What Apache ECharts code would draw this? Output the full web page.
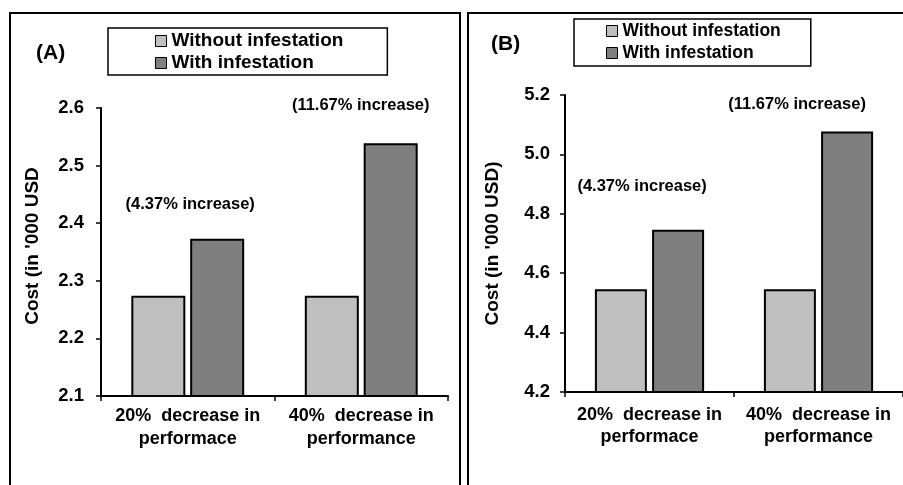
<!DOCTYPE html>
<html><head><meta charset="utf-8">
<script src="https://cdn.jsdelivr.net/npm/echarts@6/dist/echarts.min.js"></script>
<style>html,body{margin:0;padding:0;background:#fff}#c{width:903px;height:485px}</style>
</head><body><div id="c"></div>
<script>
// ---- data ----
const categories = ['20%  decrease in\nperformace', '40%  decrease in\nperformance'];
const seriesNames = ['Without infestation', 'With infestation'];
const withoutA = [2.274, 2.274];
const withA = [2.373, 2.539];
const withoutB = [4.546, 4.546];
const withB = [4.746, 5.077];
const increaseLabels = ['(4.37% increase)', '(11.67% increase)'];
const yTicksA = [2.1, 2.2, 2.3, 2.4, 2.5, 2.6];
const yTicksB = [4.2, 4.4, 4.6, 4.8, 5.0, 5.2];
const yNameA = "Cost (in '000 USD";
const yNameB = "Cost (in '000 USD)";

// ---- styles ----
const FONT = '"Liberation Sans", Arial, Helvetica, sans-serif';
const LIGHT = '#bfbfbf', DARK = '#7f7f7f';
const labelOffsetsA = [[-27, -26], [-30, -29]];
const labelOffsetsB = [[-36, -35], [-50, -19]];

const chart = echarts.init(document.getElementById('c'), null, {renderer: 'canvas'});

function xAxis(gi, margin, lh) {
  return {
    type: 'category', gridIndex: gi, data: categories,
    axisLine: {show: true, lineStyle: {color: '#000', width: 2}},
    axisTick: {show: true, length: 5, lineStyle: {color: '#000', width: 1.5}},
    axisLabel: {color: '#000', fontWeight: 'bold', fontSize: 18, fontFamily: FONT, margin: margin, lineHeight: lh, interval: 0}
  };
}
function yAxis(gi, ticks, name, gap, margin, pad) {
  return {
    type: 'value', gridIndex: gi,
    min: ticks[0], max: ticks[ticks.length - 1],
    interval: +(ticks[1] - ticks[0]).toFixed(4),
    name: name, nameLocation: 'middle', nameRotate: 90, nameGap: gap,
    nameTextStyle: {color: '#000', fontWeight: 'bold', fontSize: 19, fontFamily: FONT, padding: pad},
    splitLine: {show: false},
    axisLine: {show: true, lineStyle: {color: '#000', width: 2}},
    axisTick: {show: true, length: 5, lineStyle: {color: '#000', width: 1.5}},
    axisLabel: {color: '#000', fontWeight: 'bold', fontSize: 18.5, fontFamily: FONT, margin: margin,
      formatter: v => v.toFixed(1)}
  };
}
function barSeries(name, color, xi, vals, bw, gap, labels, offsets) {
  return {
    type: 'bar', name: name, xAxisIndex: xi, yAxisIndex: xi,
    barWidth: bw, barGap: gap,
    itemStyle: {color: color, borderColor: '#000', borderWidth: 2},
    data: vals.map((v, i) => labels ? {
      value: v,
      label: {show: true, position: 'top', distance: 0, offset: offsets[i], formatter: labels[i],
        color: '#000', fontWeight: 'bold', fontSize: 16.5, fontFamily: FONT}
    } : v)
  };
}
function legend(left, top, fs, pad) {
  return {
    left: left, top: top, orient: 'vertical', selectedMode: false,
    padding: pad, itemGap: 2, itemWidth: 11, itemHeight: 11,
    borderColor: '#000', borderWidth: 1.5, backgroundColor: '#fff',
    textStyle: {color: '#000', fontWeight: 'bold', fontSize: fs, fontFamily: FONT, lineHeight: 20},
    data: [
      {name: seriesNames[0], icon: 'rect', itemStyle: {color: LIGHT, borderColor: '#000', borderWidth: 1}},
      {name: seriesNames[1], icon: 'rect', itemStyle: {color: DARK, borderColor: '#000', borderWidth: 1}}
    ]
  };
}

chart.setOption({
  animation: false,
  backgroundColor: '#fff',
  grid: [
    {left: 101, top: 108, width: 347, height: 288},
    {left: 565, top: 95, width: 346, height: 297}
  ],
  xAxis: [xAxis(0, 9, 23), xAxis(1, 12, 22)],
  yAxis: [yAxis(0, yTicksA, yNameA, 59, 17, [0, 0, 0, 12]), yAxis(1, yTicksB, yNameB, 63, 15, 0)],
  legend: [legend(108, 28, 19, [3, 44, 2, 47]), legend(574, 19, 17.5, [2, 30, 3, 32])],
  series: [
    barSeries(seriesNames[0], LIGHT, 0, withoutA, 54, '9%'),
    barSeries(seriesNames[1], DARK, 0, withA, 54, '9%', increaseLabels, labelOffsetsA),
    barSeries(seriesNames[0], LIGHT, 1, withoutB, 52, '10%'),
    barSeries(seriesNames[1], DARK, 1, withB, 52, '10%', increaseLabels, labelOffsetsB)
  ],
  graphic: [
    {type: 'rect', shape: {x: 10, y: 13, width: 450, height: 520}, style: {fill: null, stroke: '#000', lineWidth: 2}, silent: true, z: -1},
    {type: 'rect', shape: {x: 468, y: 13, width: 520, height: 520}, style: {fill: null, stroke: '#000', lineWidth: 2}, silent: true, z: -1},
    {type: 'text', left: 36, top: 43, style: {text: '(A)', fill: '#000', font: 'bold 21px ' + FONT}},
    {type: 'text', left: 491, top: 34, style: {text: '(B)', fill: '#000', font: 'bold 21px ' + FONT}}
  ]
});
</script></body></html>
